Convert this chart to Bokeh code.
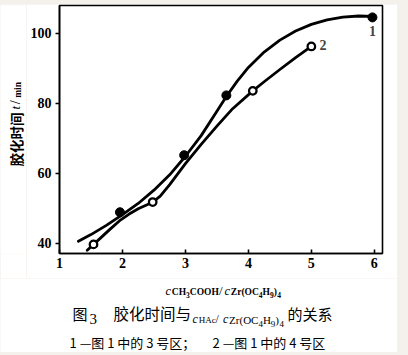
from math import pi
from bokeh.plotting import figure
from bokeh.models import Label, Range1d, FixedTicker
from bokeh.layouts import column, row
from bokeh.core.properties import value
from bokeh.embed import file_html
from bokeh.resources import INLINE

# ---- data ----
x_ticks = [1, 2, 3, 4, 5, 6]
y_ticks = [40, 60, 80, 100]

s1_x = [1.96, 2.98, 3.65, 5.97]          # curve 1 (filled points)
s1_y = [48.9, 65.2, 82.3, 104.6]
s2_x = [1.54, 2.48, 4.07, 5.0]           # curve 2 (open points)
s2_y = [39.7, 51.8, 83.6, 96.3]

fit1_x = [1.3, 1.5, 1.75, 2.0, 2.25, 2.5, 2.75, 3.0, 3.25, 3.5, 3.65, 3.82,
          4.0, 4.25, 4.5, 4.75, 5.0, 5.25, 5.5, 5.75, 5.97]
fit1_y = [40.6, 42.5, 45.2, 48.2, 51.4, 55.2, 59.6, 64.9, 70.8, 77.8, 82.0, 86.3,
          90.3, 94.7, 98.1, 100.7, 102.6, 103.9, 104.7, 105.0, 104.9]
fit2_x = [1.44, 1.54, 1.65, 1.8, 1.95, 2.1, 2.25, 2.4, 2.48, 2.6, 2.75, 3.0,
          3.25, 3.5, 3.75, 4.07, 4.25, 4.5, 4.75, 5.0]
fit2_y = [38.0, 39.7, 41.5, 44.0, 46.4, 48.3, 49.9, 51.1, 51.8, 53.5, 56.8, 62.8,
          68.3, 73.5, 78.5, 83.6, 86.2, 89.7, 93.1, 96.3]

curve_names = ["1", "2"]

# ---- layout geometry (page pixels) ----
TOP = 4                 # top of the white picture
LEFT_W = 26             # strip that holds the y-axis title
MAIN_H = 274            # main plot height (page y 4..278)
CAP_H = 74              # caption strip (page y 278..352)
TOTAL_W = 397

# ---- main figure ----
p = figure(width=TOTAL_W - LEFT_W, height=MAIN_H, output_backend="svg", toolbar_location=None,
           x_range=Range1d(1, 6.13), y_range=Range1d(37.1, 108.0),
           min_border_left=59 - LEFT_W, min_border_right=15, min_border_top=1,
           min_border_bottom=MAIN_H - (253 - TOP),
           background_fill_color="white", border_fill_color="white")
p.grid.visible = False
p.outline_line_color = "black"
p.outline_line_width = 1.6

for ax in (p.xaxis[0], p.yaxis[0]):
    ax.axis_line_width = 1.6
    ax.major_tick_line_width = 1.6
    ax.minor_tick_line_color = None
    ax.major_label_text_font = "Liberation Serif"
    ax.major_label_text_font_style = "bold"
    ax.major_label_text_font_size = "14px"
    ax.major_label_text_color = "black"

p.xaxis.ticker = FixedTicker(ticks=x_ticks)
p.yaxis.ticker = FixedTicker(ticks=y_ticks)
p.xaxis.major_tick_in = 4
p.xaxis.major_tick_out = 0
p.xaxis.major_label_standoff = 4
p.yaxis.major_tick_in = 0
p.yaxis.major_tick_out = 4
p.yaxis.major_label_standoff = 4

p.line(fit1_x, fit1_y, line_color="black", line_width=2.8, line_join="round", line_cap="round")
p.line(fit2_x, fit2_y, line_color="black", line_width=2.8, line_join="round", line_cap="round")
p.scatter(s1_x, s1_y, size=9, marker="circle", fill_color="black", line_color="black")
p.scatter(s2_x, s2_y, size=7.5, marker="circle", fill_color="white", line_color="black", line_width=2.3)

p.add_layout(Label(x=s1_x[-1], y=s1_y[-1] - 2.5, text=curve_names[0], text_align="center",
                   text_baseline="top", text_font="Liberation Serif", text_font_style="bold",
                   text_font_size="14px"))
p.add_layout(Label(x=s2_x[-1] + 0.13, y=s2_y[-1] + 0.3, text=curve_names[1], text_align="left",
                   text_baseline="middle", text_font="Liberation Serif", text_font_style="bold",
                   text_font_size="14px"))


def text_fig(w, h):
    f = figure(width=w, height=h, output_backend="svg", toolbar_location=None,
               x_range=Range1d(0, w), y_range=Range1d(h, 0),
               min_border=0, background_fill_color="white", border_fill_color="white")
    f.axis.visible = False
    f.grid.visible = False
    f.outline_line_color = None
    return f


left = text_fig(LEFT_W, MAIN_H)
cap = text_fig(TOTAL_W, CAP_H)


def put(fig, ox, oy, px, py, text, size, font="Liberation Serif", style="normal",
        angle=0, align="left", baseline="alphabetic"):
    fig.text(x=[px - ox], y=[py - oy], text=[text], text_font=value(font),
             text_font_size=value(f"{size}px"), text_font_style=value(style),
             angle=angle, text_align=value(align), text_baseline=value(baseline),
             text_color="black")


REG = {'C': .667, 'H': .722, 'O': .722, 'Z': .611, 'r': .333, '(': .333, ')': .333,
       'A': .722, 'c': .444, '/': .278, ' ': .25}
BLD = {'C': .722, 'H': .778, 'O': .778, 'Z': .667, 'r': .444, '(': .333, ')': .333,
       'A': .722, 'c': .444, '/': .278, ' ': .25}


def width(text, size, style):
    tab = BLD if "bold" in style else REG
    return sum(tab.get(ch, .5) for ch in text) * size


def seq(fig, ox, oy, px, base, pieces):
    x = px
    for text, size, style, dy, gap in pieces:
        x += gap
        put(fig, ox, oy, x, base + dy, text, size, style=style)
        x += width(text, size, style)
    return x


CY = TOP + MAIN_H   # page y of caption strip top

# x-axis title
seq(cap, 0, CY, 165, 290, [
    ("c", 12.5, "italic", 0, 0), ("CH", 9.5, "bold", 1.5, 0.8), ("3", 7.5, "bold", 4.5, 0),
    ("COOH", 9.5, "bold", 1.5, 0), ("/", 13, "normal", 0, 0), ("c", 12.5, "italic", 0, 2),
    ("Zr(OC", 9.5, "bold", 1.5, 0.8), ("4", 7.5, "bold", 4.5, 0), ("H", 9.5, "bold", 1.5, 0),
    ("9", 7.5, "bold", 4, 0), (")", 9.5, "bold", 1.5, 0), ("4", 7.5, "bold", 4.5, 0.5),
])

# caption line 1
CJK = "Noto Sans CJK SC"
put(cap, 0, CY, 72, 312.5, "图", 15, font=CJK, baseline="middle")
put(cap, 0, CY, 89, 318, "3", 15)
put(cap, 0, CY, 113, 312.5, "胶化时间与", 15.5, font=CJK, baseline="middle")
seq(cap, 0, CY, 192, 318.5, [
    ("c", 12, "italic", 0, 0), ("HAc", 9, "normal", 1, 0.8), ("/", 12, "normal", 0, 0),
    ("c", 12, "italic", 0, 4), ("Zr(OC", 11, "normal", 1, 0.8), ("4", 9, "normal", 5, 0),
    ("H", 11, "normal", 1, 0), ("9", 9, "normal", 5, 0), (")", 11, "normal", 1, 0),
    ("4", 9, "normal", 5, 0.5),
])
put(cap, 0, CY, 287, 312.5, "的关系", 15, font=CJK, baseline="middle")

# caption line 2
put(cap, 0, CY, 69, 341.5, "1 —图 1 中的 3 号区；", 13, font=CJK, baseline="middle")
put(cap, 0, CY, 212, 341.5, "2 —图 1 中的 4 号区", 13, font=CJK, baseline="middle")

# y-axis title (rotated)
put(left, 0, TOP, 15, 182, "胶化时间", 13.5, font=CJK, style="bold", angle=pi / 2, baseline="middle")
put(left, 0, TOP, 15, 119, "t", 13, style="italic", angle=pi / 2, baseline="middle")
put(left, 0, TOP, 15, 113, "/", 14, angle=pi / 2, baseline="middle")
put(left, 0, TOP, 17.5, 106, "min", 9.5, style="bold", angle=pi / 2, baseline="middle")

inner = column(row(left, p, spacing=0), cap, spacing=0)
inner.margin = (TOP, 408 - TOTAL_W, 355 - TOP - MAIN_H - CAP_H, 0)
layout = column(inner, styles={"background-color": "#f4f1ec"})
open("out.html", "w").write(file_html(layout, INLINE))
